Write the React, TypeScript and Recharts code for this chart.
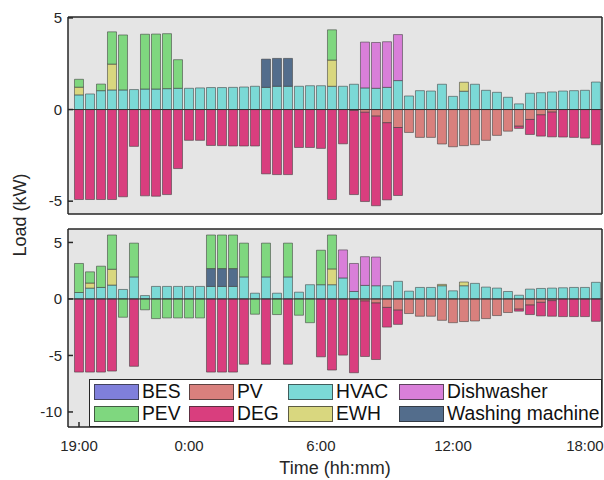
import React from 'react';
import { BarChart, Bar, XAxis, YAxis, CartesianGrid, ReferenceLine } from 'recharts';

// half-hour slots starting at 19:00
const slots = Array.from({ length: 48 }, (_, i) => i);
const xTicks = [0, 10, 22, 34, 46];
const xTickLabels = ['19:00', '0:00', '6:00', '12:00', '18:00'];

// ---- upper panel (kW) ----
const hvacTop = [0.80, 0.85, 1.03, 1.07, 1.07, 1.09, 1.12, 1.12, 1.14, 1.16, 1.16, 1.18, 1.20, 1.20, 1.21, 1.23, 1.27, 1.21, 1.27, 1.27, 1.27, 1.30, 1.30, 1.27, 1.27, 1.38, 1.18, 1.16, 1.21, 1.58, 0.74, 1.03, 1.01, 1.38, 0.72, 1.00, 1.38, 1.05, 0.94, 0.67, 0.31, 0.89, 0.92, 0.96, 1.01, 1.03, 1.05, 1.50];
const ewhTop = [0.42, 0, 0, 1.41, 0, 0, 0, 0, 0, 0, 0, 0, 0, 0, 0, 0, 0, 0, 0, 0, 0, 0, 0, 1.43, 0, 0, 0, 0, 0, 0, 0, 0, 0, 0, 0, 0.49, 0, 0, 0, 0, 0, 0, 0, 0, 0, 0, 0, 0];
const wmTop = [0, 0, 0, 0, 0, 0, 0, 0, 0, 0, 0, 0, 0, 0, 0, 0, 0, 1.54, 1.52, 1.52, 0, 0, 0, 0, 0, 0, 0, 0, 0, 0, 0, 0, 0, 0, 0, 0, 0, 0, 0, 0, 0, 0, 0, 0, 0, 0, 0, 0];
const dwTop = [0, 0, 0, 0, 0, 0, 0, 0, 0, 0, 0, 0, 0, 0, 0, 0, 0, 0, 0, 0, 0, 0, 0, 0, 0, 0, 2.50, 2.50, 2.49, 2.51, 0, 0, 0, 0, 0, 0, 0, 0, 0, 0, 0, 0, 0, 0, 0, 0, 0, 0];
const pevTop = [0.43, 0, 0.36, 1.76, 3.00, 0, 2.99, 3.00, 3.00, 1.56, 0, 0, 0, 0, 0, 0, 0, 0, 0, 0, 0, 0, 0, 1.65, 0, 0, 0, 0, 0, 0, 0, 0, 0, 0, 0, 0, 0, 0, 0, 0, 0, 0, 0, 0, 0, 0, 0, 0];
const pvTop = [0, 0, 0, 0, 0, 0, 0, 0, 0, 0, 0, 0, 0, 0, 0, 0, 0, 0, 0, 0, 0, 0, 0, 0, 0, -0.05, -0.15, -0.36, -0.72, -0.98, -1.25, -1.52, -1.52, -1.88, -2.03, -1.97, -1.92, -1.68, -1.41, -1.18, -0.91, -0.54, -0.29, -0.14, 0, 0, 0, 0];
const degTop = [-4.91, -4.91, -4.91, -4.91, -4.76, -2.01, -4.71, -4.73, -4.64, -3.22, -1.68, -1.68, -1.96, -1.97, -1.99, -1.99, -1.99, -3.51, -3.55, -3.55, -2.07, -2.07, -2.12, -4.91, -1.87, -4.59, -4.87, -4.89, -4.21, -3.71, 0, 0, 0, 0, 0, 0, 0, 0, 0, 0, -0.12, -0.82, -1.16, -1.35, -1.50, -1.52, -1.56, -1.92];
const besTop = slots.map(() => 0);

// ---- lower panel (kW) ----
const hvacBot = [0.57, 0.96, 1.02, 1.23, 0.84, 1.95, 0.30, 1.11, 1.11, 1.11, 1.11, 1.11, 1.11, 1.11, 1.11, 1.95, 0.51, 1.95, 0.51, 1.95, 0.60, 1.26, 1.26, 1.26, 1.86, 0.66, 1.20, 1.17, 1.17, 1.56, 0.69, 1.02, 1.02, 1.17, 0.72, 1.17, 1.38, 1.05, 0.96, 0.66, 0.33, 0.87, 0.93, 0.96, 0.99, 1.02, 1.02, 1.47];
const ewhBot = [0, 0.45, 0, 1.40, 0, 0, 0, 0, 0, 0, 0, 0, 0, 0, 0, 0, 0, 0, 0, 0, 0, 0, 0, 1.40, 0, 0, 0, 0, 0, 0, 0, 0, 0, 0.12, 0, 0.33, 0, 0, 0, 0, 0, 0, 0, 0, 0, 0, 0, 0];
const wmBot = [0, 0, 0, 0, 0, 0, 0, 0, 0, 0, 0, 0, 1.58, 1.58, 1.58, 0, 0, 0, 0, 0, 0, 0, 0, 0, 0, 0, 0, 0, 0, 0, 0, 0, 0, 0, 0, 0, 0, 0, 0, 0, 0, 0, 0, 0, 0, 0, 0, 0];
const dwBot = [0, 0, 0, 0, 0, 0, 0, 0, 0, 0, 0, 0, 0, 0, 0, 0, 0, 0, 0, 0, 0, 0, 0, 0, 2.48, 2.48, 2.54, 2.54, 0, 0, 0, 0, 0, 0, 0, 0, 0, 0, 0, 0, 0, 0, 0, 0, 0, 0, 0, 0];
const pevBot = [2.57, 0.99, 1.88, 3.03, -1.62, 2.99, -0.96, -1.74, -1.68, -1.68, -1.68, -1.68, 2.97, 2.97, 2.97, 2.99, -1.35, 2.99, -1.38, 2.99, -1.44, -2.10, 3.05, 3.00, 0, 0, 0, 0, 0, 0, 0, 0, 0, 0, 0, 0, 0, 0, 0, 0, 0, 0, 0, 0, 0, 0, 0, 0];
const pvBot = [0, 0, 0, 0, 0, 0, 0, 0, 0, 0, 0, 0, 0, 0, 0, 0, 0, 0, 0, 0, 0, 0, 0, 0, 0, 0, -0.18, -0.36, -0.75, -0.99, -1.29, -1.53, -1.53, -1.89, -2.10, -2.00, -1.95, -1.74, -1.47, -1.20, -0.90, -0.54, -0.30, -0.15, 0, 0, 0, 0];
const degBot = [-6.47, -6.47, -6.47, -6.38, 0, -5.96, 0, 0, 0, 0, 0, 0, -6.47, -6.47, -6.47, -5.78, 0, -5.78, 0, -5.78, 0, 0, -5.12, -6.29, -4.97, -6.53, -4.91, -5.00, -1.74, -1.26, 0, 0, 0, 0, 0, 0, 0, 0, 0, 0, -0.18, -0.84, -1.20, -1.38, -1.56, -1.56, -1.56, -1.98];
const besBot = slots.map(() => 0);

// stacking order: first one sits next to zero
const SERIES = [
  { key: 'hvac', name: 'HVAC', color: '#7bd9d6' },
  { key: 'pv', name: 'PV', color: '#d9807d' },
  { key: 'ewh', name: 'EWH', color: '#d9d77f' },
  { key: 'wm', name: 'Washing machine', color: '#536d8c' },
  { key: 'dw', name: 'Dishwasher', color: '#d97fd9' },
  { key: 'pev', name: 'PEV', color: '#7fd77f' },
  { key: 'deg', name: 'DEG', color: '#d93e7e' },
  { key: 'bes', name: 'BES', color: '#7f7fdb' },
];

const legendRows = [
  ['BES', 'PV', 'HVAC', 'Dishwasher'],
  ['PEV', 'DEG', 'EWH', 'Washing machine'],
];

const topRows = slots.map((t, i) => ({
  t, hvac: hvacTop[i], pv: pvTop[i], ewh: ewhTop[i], wm: wmTop[i], dw: dwTop[i], pev: pevTop[i], deg: degTop[i], bes: besTop[i],
}));
const botRows = slots.map((t, i) => ({
  t, hvac: hvacBot[i], pv: pvBot[i], ewh: ewhBot[i], wm: wmBot[i], dw: dwBot[i], pev: pevBot[i], deg: degBot[i], bes: besBot[i],
}));

const FONT = '"Liberation Sans", Arial, sans-serif';
const INK = '#262626';
const X_DOMAIN: [number, number] = [-1, 47.55];
const axisLine = { stroke: INK, strokeWidth: 1.5 };
const colorOf = (name: string) => SERIES.find((s) => s.name === name)!.color;

type PanelProps = {
  rows: any[];
  yDomain: [number, number];
  yTicks: number[];
  height: number;
  margin: { top: number; right: number; bottom: number; left: number };
  showTime: boolean;
};

const Panel = ({ rows, yDomain, yTicks, height, margin, showTime }: PanelProps) => (
  <BarChart width={604} height={height} data={rows} margin={margin} stackOffset="sign" barSize={9}>
    <CartesianGrid xAxisId="b" yAxisId="l" fill="#e5e5e5" horizontal={false} vertical={false} />
    <XAxis
      xAxisId="b"
      dataKey="t"
      type="number"
      domain={X_DOMAIN}
      ticks={xTicks}
      interval={0}
      tickFormatter={(v: number) => xTickLabels[xTicks.indexOf(v)]}
      height={showTime ? 30 : 1}
      tick={showTime ? { fill: INK, fontSize: 15, fontFamily: FONT } : false}
      tickSize={-5}
      tickMargin={18}
      axisLine={axisLine}
      tickLine={axisLine}
    />
    <XAxis
      xAxisId="t"
      orientation="top"
      dataKey="t"
      type="number"
      domain={X_DOMAIN}
      ticks={xTicks}
      interval={0}
      height={1}
      tick={false}
      tickSize={-5}
      axisLine={axisLine}
      tickLine={axisLine}
    />
    <YAxis
      yAxisId="l"
      type="number"
      domain={yDomain}
      ticks={yTicks}
      interval={0}
      width={68}
      tick={{ fill: INK, fontSize: 15, fontFamily: FONT }}
      tickSize={-5}
      tickMargin={11}
      axisLine={axisLine}
      tickLine={axisLine}
    />
    <YAxis
      yAxisId="r"
      orientation="right"
      type="number"
      domain={yDomain}
      ticks={yTicks}
      interval={0}
      width={1}
      tick={false}
      tickSize={-5}
      axisLine={axisLine}
      tickLine={axisLine}
    />
    {SERIES.map((s) => (
      <Bar
        key={s.key}
        xAxisId="b"
        yAxisId="l"
        dataKey={s.key}
        name={s.name}
        stackId="load"
        fill={s.color}
        stroke="#3a3a3a"
        strokeOpacity={0.55}
        strokeWidth={1}
        isAnimationActive={false}
      />
    ))}
    <ReferenceLine xAxisId="b" yAxisId="l" y={0} stroke="#333" strokeWidth={1} />
  </BarChart>
);

const LoadLegend = () => {
  const swatchX = [94, 189, 288, 399];
  const rowY = [384, 406];
  return (
    <div
      style={{
        position: 'absolute', left: 89, top: 379, width: 513, height: 48,
        boxSizing: 'border-box', border: `1.5px solid ${INK}`, background: '#fff',
      }}
    >
      {legendRows.map((row, r) =>
        row.map((name, c) => (
          <React.Fragment key={name}>
            <div
              style={{
                position: 'absolute', left: swatchX[c] - 90, top: rowY[r] - 380, width: 45, height: 16,
                boxSizing: 'border-box', background: colorOf(name), border: '1px solid rgba(40,40,40,0.7)',
              }}
            />
            <div
              style={{
                position: 'absolute', left: swatchX[c] - 90 + 48, top: rowY[r] - 380 - 3, height: 22,
                lineHeight: '22px', fontSize: 19.3, fontFamily: FONT, color: '#111', whiteSpace: 'nowrap',
              }}
            >
              {name}
            </div>
          </React.Fragment>
        ))
      )}
    </div>
  );
};

export default function App() {
  return (
    <div style={{ position: 'absolute', left: 0, top: 0, width: 604, height: 480, background: '#fff', fontFamily: FONT }}>
      <div style={{ position: 'absolute', left: 0, top: 0 }}>
        <Panel
          rows={topRows}
          yDomain={[-5.7, 5.05]}
          yTicks={[-5, 0, 5]}
          height={222}
          margin={{ top: 16, right: 1, bottom: 7, left: 0 }}
          showTime={false}
        />
      </div>
      <div style={{ position: 'absolute', left: 0, top: 222 }}>
        <Panel
          rows={botRows}
          yDomain={[-11.33, 6.19]}
          yTicks={[-10, -5, 0, 5]}
          height={258}
          margin={{ top: 6, right: 1, bottom: 23, left: 0 }}
          showTime={true}
        />
      </div>
      <LoadLegend />
      <div
        style={{
          position: 'absolute', left: 20, top: 215, transform: 'translate(-50%, -50%) rotate(-90deg)',
          fontSize: 18, color: INK, whiteSpace: 'nowrap',
        }}
      >
        Load (kW)
      </div>
      <div
        style={{
          position: 'absolute', left: 335, top: 458, transform: 'translateX(-50%)',
          fontSize: 18, lineHeight: '20px', color: INK, whiteSpace: 'nowrap',
        }}
      >
        Time (hh:mm)
      </div>
    </div>
  );
}
